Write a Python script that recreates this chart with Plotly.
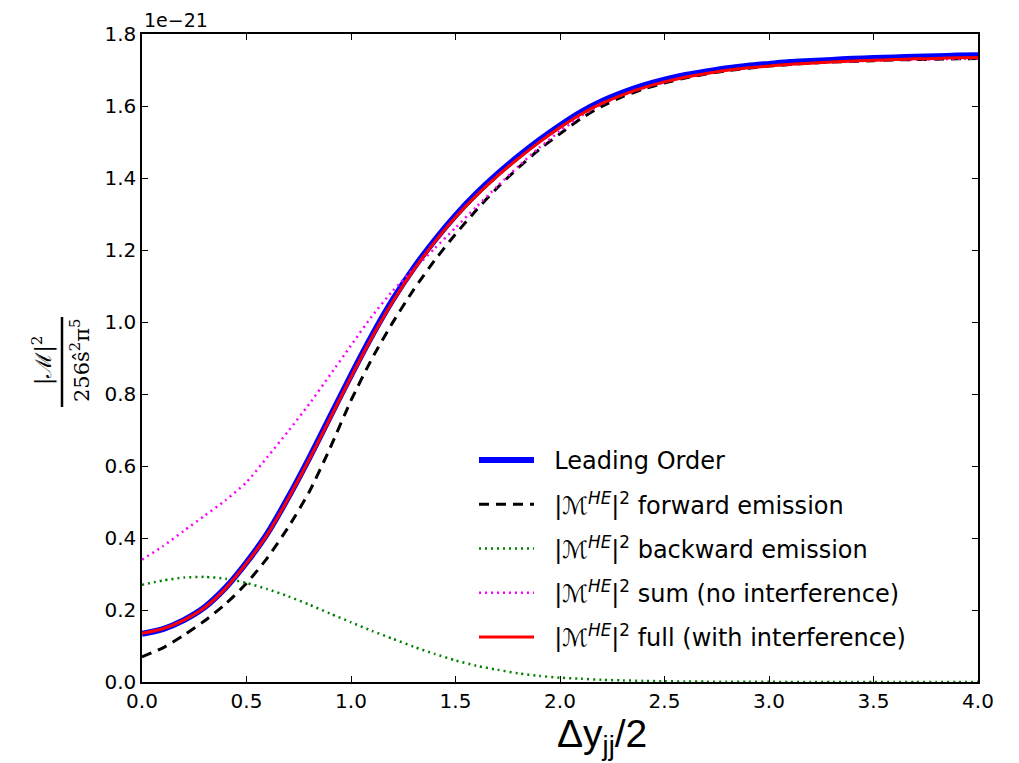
import plotly.graph_objects as go

# Half rapidity separation of the jet pair (0.0 ... 4.0 in steps of 0.1)
dy_half = [round(0.1 * i, 1) for i in range(41)]

# |M|^2 / (256 s^2 pi^5), in units of 1e-21
leading_order = [0.134, 0.147, 0.172, 0.208, 0.262, 0.332, 0.413, 0.513, 0.622, 0.737,
                 0.852, 0.962, 1.062, 1.150, 1.227, 1.296, 1.357, 1.411, 1.460, 1.505,
                 1.546, 1.583, 1.613, 1.637, 1.657, 1.673, 1.686, 1.696, 1.705, 1.712,
                 1.717, 1.722, 1.725, 1.728, 1.731, 1.733, 1.735, 1.737, 1.738, 1.740,
                 1.741]
forward = [0.070, 0.095, 0.130, 0.170, 0.217, 0.274, 0.345, 0.430, 0.528, 0.650,
           0.782, 0.898, 0.999, 1.090, 1.171, 1.244, 1.311, 1.373, 1.428, 1.479,
           1.523, 1.565, 1.599, 1.626, 1.647, 1.664, 1.678, 1.689, 1.698, 1.705,
           1.711, 1.715, 1.719, 1.722, 1.724, 1.726, 1.728, 1.729, 1.730, 1.731,
           1.732]
backward = [0.270, 0.282, 0.290, 0.292, 0.287, 0.275, 0.258, 0.238, 0.215, 0.190,
            0.166, 0.142, 0.120, 0.098, 0.078, 0.060, 0.045, 0.034, 0.024, 0.017,
            0.012, 0.009, 0.006, 0.0045, 0.003, 0.002, 0.0015, 0.001, 0.0008, 0.0006,
            0.0004, 0.0003, 0.0003, 0.0002, 0.0002, 0.0002, 0.0001, 0.0001, 0.0001,
            0.0001, 0.0001]
no_interference = [0.340, 0.377, 0.420, 0.462, 0.505, 0.555, 0.625, 0.697, 0.772, 0.853,
                   0.935, 1.016, 1.087, 1.147, 1.204, 1.262, 1.320, 1.377, 1.432, 1.484,
                   1.530, 1.572, 1.605, 1.630, 1.650, 1.666, 1.680, 1.690, 1.699, 1.706,
                   1.711, 1.715, 1.719, 1.722, 1.724, 1.726, 1.728, 1.729, 1.730, 1.731,
                   1.732]
full = [0.135, 0.148, 0.172, 0.207, 0.260, 0.330, 0.410, 0.510, 0.618, 0.732,
        0.847, 0.957, 1.057, 1.145, 1.222, 1.291, 1.351, 1.405, 1.454, 1.499,
        1.540, 1.577, 1.607, 1.631, 1.651, 1.667, 1.680, 1.690, 1.699, 1.706,
        1.711, 1.716, 1.719, 1.722, 1.725, 1.727, 1.729, 1.731, 1.732, 1.734,
        1.735]

x_ticks = [0.0, 0.5, 1.0, 1.5, 2.0, 2.5, 3.0, 3.5, 4.0]
y_ticks = [0.0, 0.2, 0.4, 0.6, 0.8, 1.0, 1.2, 1.4, 1.6, 1.8]

ME = "|ℳ<sup><i>HE</i></sup>|<sup>2</sup>"
PAD = "\u00a0\u00a0"

fig = go.Figure()

series = [
    ("Leading Order", leading_order, dict(color="#0000ff", width=6, dash="solid")),
    (ME + " forward emission", forward, dict(color="#000000", width=3, dash="10px,7px")),
    (ME + " backward emission", backward, dict(color="#008000", width=2.5, dash="2px,4px")),
    (ME + " sum (no interference)", no_interference, dict(color="#ff00ff", width=2.5, dash="2px,4px")),
    (ME + " full (with interference)", full, dict(color="#ff0000", width=3, dash="solid")),
]
for i, (name, vals, line) in enumerate(series):
    fig.add_trace(go.Scatter(
        x=dy_half, y=vals, mode="lines", name=PAD + name, legendgroup=f"g{i}",
        line=dict(shape="spline", smoothing=0.6, **line),
    ))

axis_common = dict(
    showgrid=False, zeroline=False, showline=True, linecolor="black", linewidth=1.5,
    mirror="ticks", ticks="inside", ticklen=6, tickwidth=1, tickcolor="black",
    tickfont=dict(family="DejaVu Sans", size=20, color="black"),
    tickformat=".1f",
)
fig.update_xaxes(range=[0, 4], tickvals=x_ticks, **axis_common)
fig.update_yaxes(range=[0, 1.8], tickvals=y_ticks, **axis_common)

W, H = 1019, 763
L, R, T, B = 142, 41, 34, 81
pw, ph = W - L - R, H - T - B


def px_x(px):
    return (px - L) / pw


def px_y(py):
    return (H - B - py) / ph


annotations = [
    # offset exponent above the y axis
    dict(text="1e−21", x=0, xref="paper", xanchor="left", y=1.0, yref="paper",
         yanchor="bottom", yshift=1, showarrow=False,
         font=dict(family="DejaVu Sans", size=19, color="black")),
    # x-axis label
    dict(text="Δy<sub>jj</sub>/2", x=px_x(602), y=px_y(736), xref="paper", yref="paper",
         xanchor="center", yanchor="middle", showarrow=False,
         font=dict(family="Liberation Sans", size=39, color="black")),
    # y-axis label: numerator and denominator of the fraction
    dict(text="|ℳ|<sup>2</sup>", x=px_x(42), y=px_y(360), xref="paper", yref="paper",
         xanchor="center", yanchor="middle", textangle=-90, showarrow=False,
         font=dict(family="DejaVu Serif", size=22, color="black")),
    dict(text="256ŝ<sup>2</sup>π<sup>5</sup>", x=px_x(80), y=px_y(361), xref="paper",
         yref="paper", xanchor="center", yanchor="middle", textangle=-90, showarrow=False,
         font=dict(family="DejaVu Serif", size=21, color="black")),
]

fig.add_shape(type="line", xref="paper", yref="paper",
              x0=px_x(62), y0=px_y(317), x1=px_x(62), y1=px_y(407),
              line=dict(color="black", width=2.5))

fig.update_layout(
    width=W, height=H,
    margin=dict(l=L, r=R, t=T, b=B),
    paper_bgcolor="white", plot_bgcolor="white",
    annotations=annotations,
    showlegend=True,
    legend=dict(
        x=px_x(474), xanchor="left", y=px_y(438), yanchor="top",
        bgcolor="rgba(0,0,0,0)", borderwidth=0,
        font=dict(family="DejaVu Sans", size=24, color="black"),
        traceorder="grouped", tracegroupgap=10, itemwidth=55,
    ),
)

fig.write_html("out.html")
